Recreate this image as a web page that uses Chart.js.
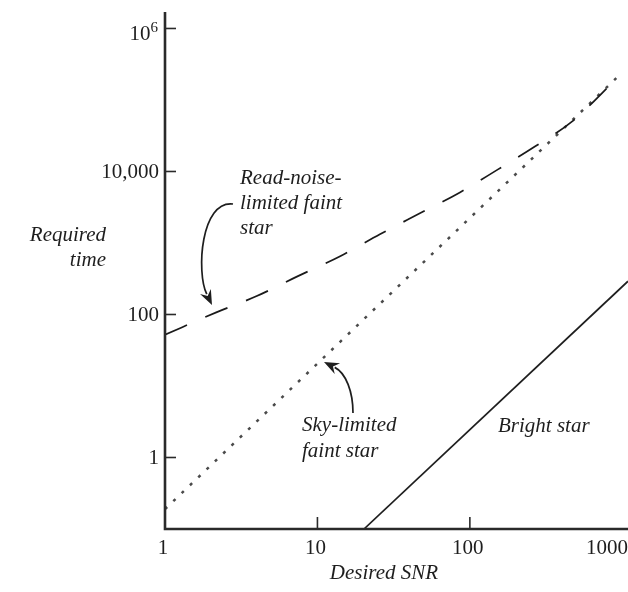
<!DOCTYPE html>
<html>
<head>
<meta charset="utf-8">
<script src="https://cdn.jsdelivr.net/npm/chart.js@4.4.1/dist/chart.umd.min.js"></script>
<style>
  html, body { margin: 0; padding: 0; background: #ffffff; }
  #wrap { position: relative; width: 628px; height: 592px; }
</style>
</head>
<body>
<div id="wrap"><canvas id="c"></canvas></div>
<script>
// Read-noise-limited faint star (dashed)
const snrReadNoise  = [1, 2.19, 4.0, 7.45, 14.1, 25.7, 47, 86, 153, 267, 467, 920];
const timeReadNoise = [52, 108, 181, 344, 653, 1325, 2600, 5100, 10700, 22300, 49800, 200000];
// Sky-limited faint star (dotted)
const snrSky  = [1, 920];
const timeSky = [0.19, 205000];
// Bright star (solid)
const snrBright  = [20.2, 1090];
const timeBright = [0.1, 292];

// Axis ticks
const xTickValues = [1, 10, 100, 1000];
const xTickLabels = ['1', '10', '100', '1000'];
const xTickMarks  = [10, 100];
const yTickValues = [1, 100, 10000, 1000000];
const yTickLabels = ['1', '100', '10,000', '10^6'];

const xRange = [1, 1090];
const yRange = [0.1, 1.7e6];

const INK = '#1e1e1e';
const SERIF = '"Liberation Serif", "Times New Roman", serif';

function pts(xs, ys) { return xs.map((x, i) => ({ x: x, y: ys[i] })); }

function arrow(ctx, p0, c1, c2, p3) {
  ctx.save();
  ctx.strokeStyle = INK; ctx.fillStyle = INK; ctx.lineWidth = 1.7;
  const ang = Math.atan2(p3[1] - c2[1], p3[0] - c2[0]);
  const len = 15, half = 6;
  const bx = p3[0] - Math.cos(ang) * (len - 3), by = p3[1] - Math.sin(ang) * (len - 3);
  ctx.beginPath();
  ctx.moveTo(p0[0], p0[1]);
  ctx.bezierCurveTo(c1[0], c1[1], c2[0], c2[1], bx, by);
  ctx.stroke();
  ctx.beginPath();
  ctx.moveTo(p3[0], p3[1]);
  ctx.lineTo(p3[0] - Math.cos(ang) * len - Math.sin(ang) * half, p3[1] - Math.sin(ang) * len + Math.cos(ang) * half);
  ctx.lineTo(p3[0] - Math.cos(ang) * (len - 5), p3[1] - Math.sin(ang) * (len - 5));
  ctx.lineTo(p3[0] - Math.cos(ang) * len + Math.sin(ang) * half, p3[1] - Math.sin(ang) * len - Math.cos(ang) * half);
  ctx.closePath();
  ctx.fill();
  ctx.restore();
}

const frame = {
  id: 'frame',
  afterDraw(chart) {
    const ctx = chart.ctx;
    const a = chart.chartArea;
    const xs = chart.scales.x, ys = chart.scales.y;
    ctx.save();

    // axis lines
    ctx.strokeStyle = '#2a2a2a';
    ctx.lineWidth = 2.6;
    ctx.beginPath();
    ctx.moveTo(a.left, a.top);
    ctx.lineTo(a.left, a.bottom);
    ctx.lineTo(a.right, a.bottom);
    ctx.stroke();

    // tick marks (pointing inward)
    ctx.lineWidth = 1.6;
    yTickValues.forEach(v => {
      const y = ys.getPixelForValue(v);
      ctx.beginPath(); ctx.moveTo(a.left, y); ctx.lineTo(a.left + 11, y); ctx.stroke();
    });
    xTickMarks.forEach(v => {
      const x = xs.getPixelForValue(v);
      ctx.beginPath(); ctx.moveTo(x, a.bottom); ctx.lineTo(x, a.bottom - 12); ctx.stroke();
    });

    // tick labels
    ctx.fillStyle = INK;
    ctx.textBaseline = 'alphabetic';
    yTickLabels.forEach((lab, i) => {
      const y = ys.getPixelForValue(yTickValues[i]);
      ctx.textAlign = 'right';
      if (lab.indexOf('^') >= 0) {
        const parts = lab.split('^');
        ctx.font = '15px ' + SERIF;
        const wSup = ctx.measureText(parts[1]).width;
        ctx.fillText(parts[1], a.left - 7, y + 4);
        ctx.font = '21px ' + SERIF;
        ctx.fillText(parts[0], a.left - 7 - wSup, y + 12);
      } else {
        ctx.font = '21px ' + SERIF;
        ctx.fillText(lab, a.left - 6, y + 7);
      }
    });
    ctx.font = '21px ' + SERIF;
    ctx.textAlign = 'center';
    xTickLabels.forEach((lab, i) => {
      let x = xs.getPixelForValue(xTickValues[i]) - 2;
      const w = ctx.measureText(lab).width;
      x = Math.min(x, chart.width - w / 2);
      ctx.fillText(lab, x, a.bottom + 25);
    });

    // axis titles
    ctx.font = 'italic 21px ' + SERIF;
    ctx.textAlign = 'center';
    ctx.fillText('Desired SNR', 384, 579);
    ctx.textAlign = 'right';
    ctx.fillText('Required', 106, 241);
    ctx.fillText('time', 106, 266);

    // curve annotations
    ctx.textAlign = 'left';
    ctx.fillText('Read-noise-', 240, 184);
    ctx.fillText('limited faint', 240, 209);
    ctx.fillText('star', 240, 234);
    ctx.fillText('Sky-limited', 302, 431);
    ctx.fillText('faint star', 302, 457);
    ctx.fillText('Bright star', 498, 432);
    ctx.restore();

    arrow(ctx, [233, 204], [201, 200], [196, 272], [212, 305]);
    arrow(ctx, [353, 413], [353, 392], [346, 373], [324, 362]);
  }
};

new Chart(document.getElementById('c'), {
  type: 'line',
  data: {
    datasets: [
      {
        label: 'Read-noise-limited faint star',
        data: pts(snrReadNoise, timeReadNoise),
        borderColor: '#1a1a1a', borderWidth: 1.7, borderDash: [24, 20],
        pointRadius: 0, fill: false, cubicInterpolationMode: 'monotone'
      },
      {
        label: 'Sky-limited faint star',
        data: pts(snrSky, timeSky),
        borderColor: '#4a4a4a', borderWidth: 2.5, borderDash: [3, 8.5],
        pointRadius: 0, fill: false
      },
      {
        label: 'Bright star',
        data: pts(snrBright, timeBright),
        borderColor: '#1e1e1e', borderWidth: 1.7,
        pointRadius: 0, fill: false
      }
    ]
  },
  options: {
    responsive: true,
    maintainAspectRatio: false,
    animation: false,
    layout: { padding: { left: 165, right: 0, top: 12, bottom: 63 } },
    plugins: { legend: { display: false }, tooltip: { enabled: false } },
    scales: {
      x: { type: 'logarithmic', min: xRange[0], max: xRange[1], display: false },
      y: { type: 'logarithmic', min: yRange[0], max: yRange[1], display: false }
    }
  },
  plugins: [frame]
});
</script>
</body>
</html>
